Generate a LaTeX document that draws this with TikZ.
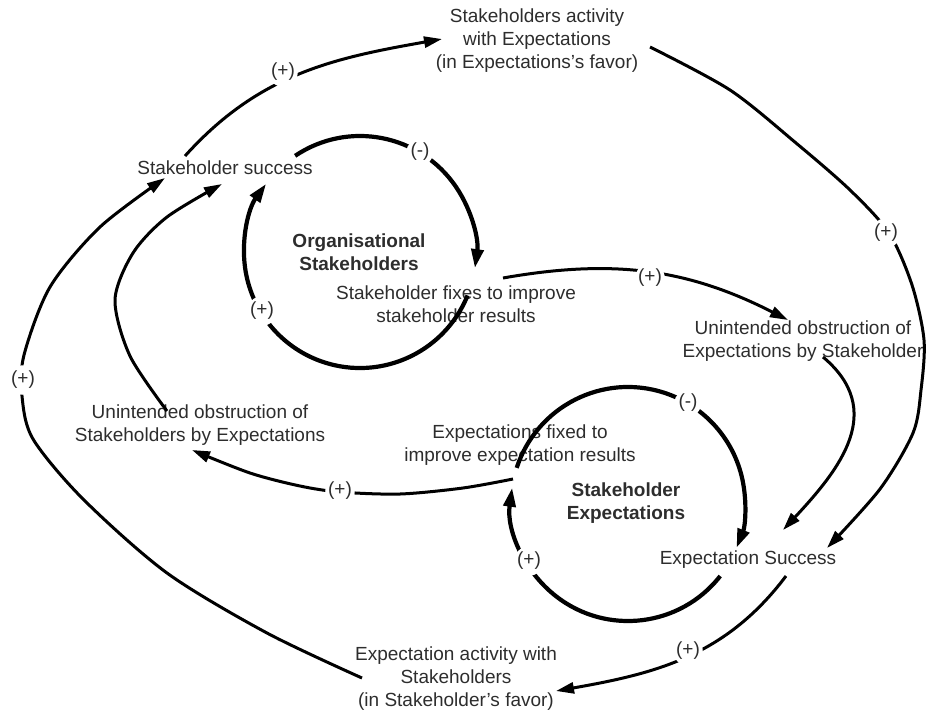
\documentclass[tikz,border=0pt]{standalone}
\usepackage{fontspec}
\setmainfont{Liberation Sans}
\usetikzlibrary{arrows.meta,calc}
\definecolor{txtc}{RGB}{45,45,45}
\begin{document}
\begin{tikzpicture}[x=1pt,y=1pt,
  txt/.style={align=center, font=\fontsize{19}{23}\selectfont, text=txtc, inner sep=0pt},
  boldtxt/.style={align=center, font=\fontsize{19}{23}\selectfont\bfseries, text=txtc, inner sep=0pt},
  sign/.style={fill=white, circle, inner sep=0pt, minimum size=27pt, font=\fontsize{19}{23}\selectfont, text=txtc},
  conn/.style={line width=3pt, -{Triangle[length=18pt,width=11pt]}},
  loopc/.style={line width=4.2pt, -{Triangle[length=19pt,width=12pt]}}]
\useasboundingbox (0,0) rectangle (926,-713);

% text nodes
\node[txt] (sa) at (537,-41) {Stakeholders activity\\with Expectations\\(in Expectations's favor)};
\node[txt] (ss) at (225,-168) {Stakeholder success};
\node[boldtxt] (org) at (359,-252) {Organisational\\Stakeholders};
\node[txt] (sf) at (456,-304) {Stakeholder fixes to improve\\stakeholder results};
\node[txt] (uoe) at (803,-341) {Unintended obstruction of\\Expectations by Stakeholder};
\node[txt] (uos) at (200,-425) {Unintended obstruction of\\Stakeholders by Expectations};
\node[txt] (efx) at (520,-445) {Expectations fixed to\\improve expectation results};
\node[boldtxt] (se) at (626,-503) {Stakeholder\\Expectations};
\node[txt] (es) at (748,-560) {Expectation Success};
\node[txt] (ea) at (456,-679) {Expectation activity with\\Stakeholders\\(in Stakeholder's favor)};

% loop centres
\coordinate (c1) at (360,-252);
\coordinate (c2) at (628,-504);

% connector end points
\coordinate (ss-o1) at (185,-156);
\coordinate (sa-i) at (442,-39);
\coordinate (sa-o) at (650,-47);
\coordinate (es-i1) at (827,-548);
\coordinate (sf-o) at (503,-278);
\coordinate (uoe-i) at (788,-320);
\coordinate (uoe-o) at (823,-357);
\coordinate (es-i2) at (783,-530);
\coordinate (es-o) at (786,-576);
\coordinate (ea-i) at (556,-691);
\coordinate (ea-o) at (362,-678);
\coordinate (ss-i1) at (165,-178);
\coordinate (uos-o) at (167,-411);
\coordinate (ss-i2) at (222,-184);
\coordinate (efx-o) at (513,-479);
\coordinate (uos-i) at (192,-450);

% connectors
\draw[conn] (ss-o1) to[out=48,in=190] (sa-i);
\draw[conn] plot[smooth] coordinates {(sa-o) (730,-90) (796,-143) (850,-190) (889,-233) (912,-285) (924,-340) (921,-390) (913,-433) (880,-489) (es-i1)};
\draw[conn] (sf-o) to[out=10,in=153] (uoe-i);
\draw[conn] (uoe-o) to[out=-40,in=47,looseness=1.2] (es-i2);
\draw[conn] (es-o) to[out=233,in=10] (ea-i);
\draw[conn] plot[smooth] coordinates {(ea-o) (267,-633) (167,-573) (83,-499) (33,-439) (22,-396) (24,-355) (50,-287) (100,-227) (ss-i1)};
\draw[conn] plot[smooth] coordinates {(uos-o) (130,-356) (115,-300) (133,-253) (167,-217) (ss-i2)};
\draw[conn] plot[smooth] coordinates {(efx-o) (463,-488) (400,-494) (340,-492) (300,-486) (250,-473) (uos-i)};

% loops
\draw[loopc] ($(c1)+(124:116)$) arc[start angle=124, end angle=-8, radius=116];
\draw[loopc] ($(c1)+(-22:116)$) arc[start angle=-22, end angle=-216, radius=116];
\draw[loopc] ($(c2)+(162:117)$) arc[start angle=162, end angle=-22, radius=117];
\draw[loopc] ($(c2)+(-38:117)$) arc[start angle=-38, end angle=-188, radius=117];

% polarity signs
\node[sign] (s1) at (283,-72) {(+)};
\node[sign] (s2) at (886,-233) {(+)};
\node[sign] (s3) at (650,-278) {(+)};
\node[sign] (s4) at (23,-380) {(+)};
\node[sign] (s5) at (340,-491) {(+)};
\node[sign] (s6) at (688,-651) {(+)};
\node[sign] (s7) at (420,-152) {(-)};
\node[sign] (s8) at (262,-311) {(+)};
\node[sign] (s9) at (688,-403) {(-)};
\node[sign] (s10) at (529,-561) {(+)};
\end{tikzpicture}
\end{document}
